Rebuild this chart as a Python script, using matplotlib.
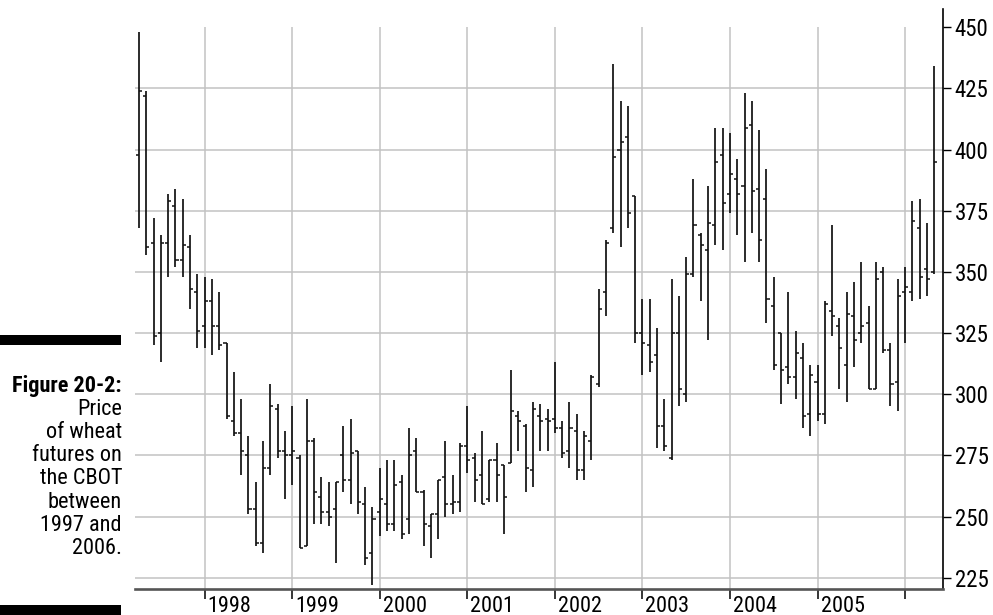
import numpy as np
import pandas as pd
import matplotlib
matplotlib.use("Agg")
import matplotlib.pyplot as plt
from matplotlib import font_manager
from matplotlib.patches import Rectangle
from matplotlib.transforms import offset_copy

# pick a narrow sans face if one is installed
ttfs = font_manager.fontManager.ttflist
names = {f.name for f in ttfs}
narrow = ['Liberation Sans Narrow', 'Roboto Condensed', 'DejaVu Sans Condensed',
          'Noto Sans Condensed', 'Open Sans Condensed', 'Arial Narrow']
face = next((n for n in narrow if n in names), None)
stretch = 'normal'
if face is None:
    cond = [f.name for f in ttfs if f.stretch in ('condensed', 'semi-condensed',
                                                  'extra-condensed')]
    face = next((n for n in ['DejaVu Sans', 'Noto Sans', 'Open Sans', 'Roboto']
                 if n in cond), None)
    stretch = 'condensed' if face else 'normal'
if face is None:
    face = 'Roboto' if 'Roboto' in names else 'Liberation Sans'
plt.rcParams['font.family'] = [face, 'DejaVu Sans']
plt.rcParams['font.stretch'] = stretch

# monthly wheat futures, Apr 1997 .. May 2006
months = pd.date_range('1997-04-01', '2006-05-01', freq='MS')

opens = [398, 422, 362, 325, 362, 377, 355, 360, 342,
         328, 338, 328, 321, 289, 284, 275, 253, 239, 270, 294, 277,
         275, 274, 238, 281, 258, 252, 253, 275, 265, 277, 255, 235,
         252, 255, 247, 264, 249, 277, 260, 246, 251, 266, 255, 256,
         279, 274, 267, 257, 273, 271, 272, 291, 287, 269, 291, 290,
         290, 286, 277, 285, 269, 281, 304, 342, 368, 400, 405, 381,
         325, 320, 316, 287, 274, 325, 300, 349, 365, 359, 369, 398,
         382, 388, 385, 410, 384, 380, 336, 325, 311, 307, 315, 292,
         305, 292, 334, 328, 312, 332, 325, 329, 302, 350, 318, 305,
         342, 342, 368, 351, 350]
highs = [448, 424, 372, 365, 382, 384, 380, 365, 349,
         348, 347, 342, 321, 309, 298, 283, 264, 281, 304, 296, 285,
         295, 275, 298, 282, 266, 264, 264, 287, 290, 277, 262, 254,
         270, 273, 273, 267, 286, 282, 261, 251, 265, 281, 267, 280,
         295, 276, 285, 273, 280, 271, 310, 293, 288, 297, 296, 294,
         313, 289, 297, 292, 285, 308, 343, 363, 435, 420, 418, 381,
         339, 339, 327, 298, 347, 340, 356, 388, 366, 385, 409, 409,
         407, 396, 423, 420, 408, 392, 348, 325, 342, 326, 321, 312,
         312, 338, 369, 331, 342, 346, 354, 336, 354, 352, 321, 347,
         352, 379, 380, 370, 434]
lows = [368, 357, 320, 313, 348, 352, 348, 335, 319,
        319, 316, 318, 290, 283, 267, 251, 238, 235, 267, 274, 257,
        263, 237, 238, 247, 247, 246, 231, 260, 255, 251, 230, 222,
        242, 244, 244, 241, 243, 260, 238, 233, 241, 250, 251, 252,
        268, 256, 255, 256, 256, 243, 272, 277, 260, 262, 277, 277,
        284, 274, 270, 265, 265, 273, 303, 332, 366, 360, 368, 321,
        308, 309, 278, 277, 273, 295, 297, 348, 338, 322, 361, 359,
        374, 365, 354, 366, 354, 329, 310, 296, 304, 298, 286, 283,
        289, 288, 324, 302, 297, 311, 321, 302, 302, 317, 295, 293,
        321, 338, 339, 340, 349]
closes = [424, 360, 324, 362, 379, 355, 361, 343, 326,
          338, 328, 320, 291, 284, 277, 253, 239, 270, 295, 277, 275,
          277, 237, 281, 260, 252, 250, 264, 265, 276, 256, 233, 249,
          257, 247, 263, 243, 275, 260, 247, 251, 265, 255, 256, 279,
          273, 265, 255, 273, 267, 258, 293, 289, 270, 294, 289, 289,
          286, 276, 286, 269, 283, 307, 335, 362, 397, 403, 374, 325,
          321, 313, 287, 279, 325, 302, 349, 369, 361, 370, 395, 378,
          390, 382, 409, 383, 363, 339, 312, 310, 307, 317, 291, 308,
          292, 337, 332, 319, 333, 322, 328, 302, 347, 318, 304, 340,
          344, 371, 348, 347, 395]

price_ticks = [225, 250, 275, 300, 325, 350, 375, 400, 425, 450]
caption_title = 'Figure 20-2:'
caption_lines = ['Price', 'of wheat', 'futures on', 'the CBOT',
                 'between', '1997 and', '2006.']

W, H = 993, 615
fig = plt.figure(figsize=(W / 100, H / 100), dpi=100)
ax = fig.add_axes([135 / W, 1 - 588.7 / H, (943 - 135) / W, (588.7 - 9) / H])

x = np.arange(len(months))
year_x = x[months.month == 1]
years = months.year[months.month == 1]

ax.set_xlim(-0.55, 110.2)
ax.set_ylim(220.5, 457.5)

# grid
grid_c = '#c2c2c2'
for v in price_ticks[:-1]:
    ax.axhline(v, color=grid_c, lw=1.1, zorder=0)
ax.vlines(year_x, 220.5, 450, color=grid_c, lw=1.1, zorder=0)

# OHLC bars: open tick left, close tick right
bar_c = '#111111'
ax.vlines(x, lows, highs, color=bar_c, lw=1.25, zorder=3)
ax.hlines(opens, x - 0.42, x, color=bar_c, lw=1.1, zorder=3)
ax.hlines(closes, x, x + 0.42, color=bar_c, lw=1.1, zorder=3)

for s in ['left', 'top']:
    ax.spines[s].set_visible(False)
ax.spines['right'].set_color('black')
ax.spines['right'].set_linewidth(1.2)
ax.spines['bottom'].set_color('#555555')
ax.spines['bottom'].set_linewidth(1.9)

ax.yaxis.tick_right()
ax.set_yticks(price_ticks)
ax.tick_params(axis='y', direction='out', length=5.5, width=1, pad=3,
               labelsize=16.5, color='black')
ax.set_xticks(year_x)
ax.set_xticklabels([])
ax.tick_params(axis='x', direction='out', length=7.5, width=1.1, color='black')

# year names sit right of their tick, baseline just above the bottom edge
lab_tr = offset_copy(ax.get_xaxis_transform(), x=3, y=-23, units='dots')
for xi, yr in zip(year_x[:-1], years[:-1]):
    ax.text(xi, 0, str(yr), transform=lab_tr, ha='left', va='baseline',
            fontsize=16)

# caption block on the left
fig.add_artist(Rectangle((0, 1 - 345 / H), 121 / W, 10 / H,
                         transform=fig.transFigure, color='black', lw=0))
fig.add_artist(Rectangle((0, 0), 121 / W, 10 / H,
                         transform=fig.transFigure, color='black', lw=0))
cap_x = 122 / W
fig.text(cap_x, 1 - 386 / H, caption_title, ha='right', va='center',
         fontsize=16, fontweight='bold')
for i, line in enumerate(caption_lines):
    fig.text(cap_x, 1 - (386 + 23.2 * (i + 1)) / H, line, ha='right',
             va='center', fontsize=16)

fig.savefig('out.png', dpi=100)
